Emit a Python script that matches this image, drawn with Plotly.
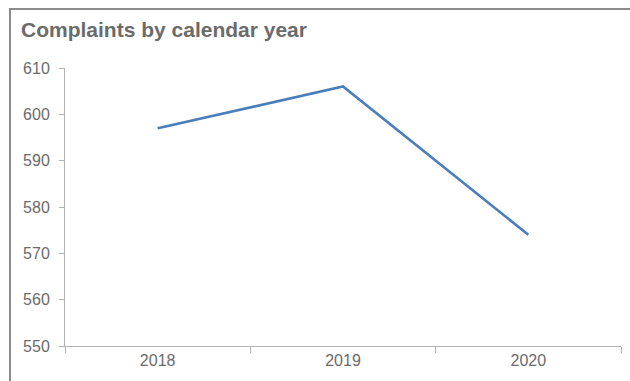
import plotly.graph_objects as go

years = ["2018", "2019", "2020"]
complaints = [597, 606, 574]

axis_grey = "#b3b3b3"
text_grey = "#6b6b6b"

fig = go.Figure()
fig.add_trace(go.Scatter(
    x=years,
    y=complaints,
    mode="lines",
    line=dict(color="#4a7ebb", width=2.6),
    hoverinfo="x+y",
))

fig.update_layout(
    width=630,
    height=381,
    margin=dict(l=65, r=9, t=68, b=35),
    paper_bgcolor="white",
    plot_bgcolor="white",
    showlegend=False,
    font=dict(family="Liberation Sans, Arial, sans-serif", color=text_grey, size=16),
    title=dict(
        text="<b>Complaints by calendar year</b>",
        x=21 / 630,
        xanchor="left",
        xref="container",
        y=1 - 30 / 381,
        yanchor="middle",
        yref="container",
        font=dict(size=21, color=text_grey),
    ),
    xaxis=dict(
        type="category",
        range=[-0.5, 2.5],
        tickson="boundaries",
        ticks="outside",
        ticklen=6,
        tickcolor=axis_grey,
        showline=True,
        linecolor=axis_grey,
        linewidth=1,
        showgrid=False,
        zeroline=False,
        tickfont=dict(size=16, color=text_grey),
    ),
    yaxis=dict(
        range=[550, 610],
        dtick=10,
        ticks="outside",
        ticklen=5,
        tickcolor=axis_grey,
        showline=True,
        linecolor=axis_grey,
        linewidth=1,
        showgrid=False,
        zeroline=False,
        ticklabelstandoff=6,
        tickfont=dict(size=16, color=text_grey),
    ),
    shapes=[
        dict(
            type="rect",
            xref="paper",
            yref="paper",
            x0=(10 - 65) / 556,
            x1=1.2,
            y0=-0.4,
            y1=1 + (68 - 9) / 278,
            line=dict(color="#8c8c8c", width=2),
            fillcolor="rgba(0,0,0,0)",
            layer="below",
        )
    ],
)

fig.write_html("out.html")
